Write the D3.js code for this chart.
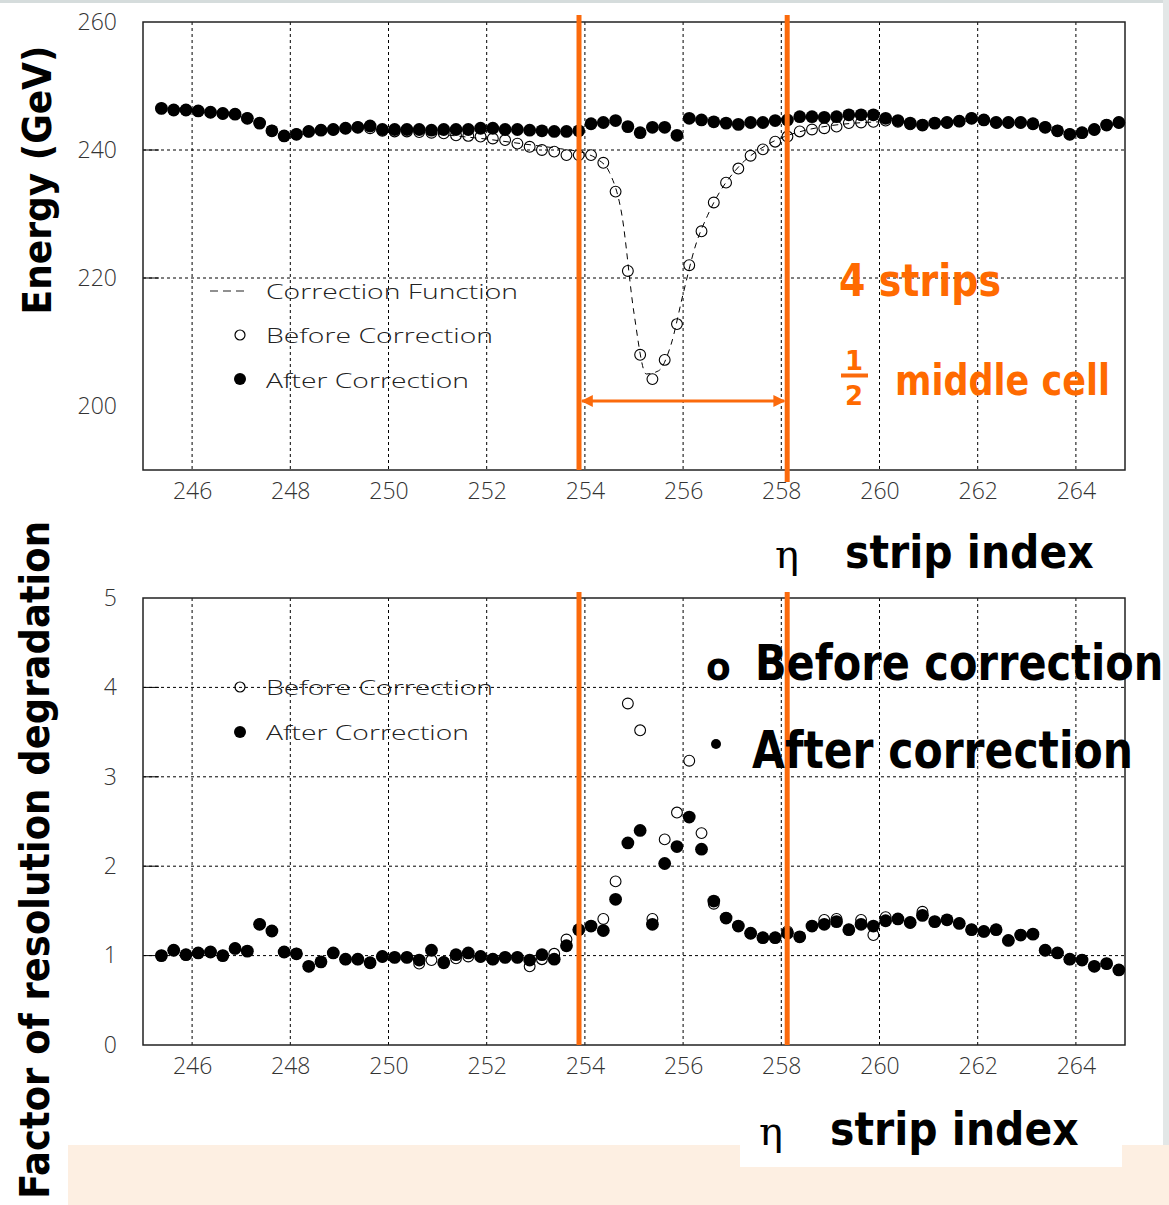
<!DOCTYPE html>
<html>
<head>
<meta charset="utf-8">
<script src="https://cdn.jsdelivr.net/npm/d3@7"></script>
<style>
body{margin:0;background:#fff;}
svg{display:block;}
.tick text{font-family:"Open Sans","DejaVu Sans",sans-serif;font-weight:300;font-size:23px;fill:#333;}
.grid line{stroke:#000;stroke-dasharray:3,3;stroke-width:1;}
.legend{font-family:"Open Sans","DejaVu Sans",sans-serif;font-weight:300;font-size:21px;fill:#222;}
.big{font-family:"DejaVu Sans",sans-serif;font-weight:bold;fill:#000;}
.orange{font-family:"DejaVu Sans",sans-serif;font-weight:bold;fill:#ff6a00;}
</style>
</head>
<body>
<script>
(function(){

    //strip positions (quarter strip steps)
    var strips = [245.375,245.625,245.875,246.125,246.375,246.625,246.875,247.125,247.375,247.625,
        247.875,248.125,248.375,248.625,248.875,249.125,249.375,249.625,249.875,250.125,
        250.375,250.625,250.875,251.125,251.375,251.625,251.875,252.125,252.375,252.625,
        252.875,253.125,253.375,253.625,253.875,254.125,254.375,254.625,254.875,255.125,
        255.375,255.625,255.875,256.125,256.375,256.625,256.875,257.125,257.375,257.625,
        257.875,258.125,258.375,258.625,258.875,259.125,259.375,259.625,259.875,260.125,
        260.375,260.625,260.875,261.125,261.375,261.625,261.875,262.125,262.375,262.625,
        262.875,263.125,263.375,263.625,263.875,264.125,264.375,264.625,264.875];

    //energy after correction (GeV)
    var energyAfter = [246.5,246.25,246.25,246.1,245.9,245.7,245.6,244.95,244.2,243.0,
        242.2,242.45,242.9,243.1,243.2,243.4,243.55,243.75,243.2,243.2,
        243.2,243.2,243.1,243.2,243.2,243.2,243.4,243.4,243.2,243.2,
        243.1,243.0,242.9,242.9,243.0,244.1,244.3,244.6,243.65,242.7,
        243.55,243.55,242.3,244.95,244.7,244.4,244.2,244.0,244.3,244.3,
        244.6,244.7,245.2,245.2,245.1,245.2,245.5,245.5,245.5,244.95,
        244.6,244.2,243.9,244.2,244.3,244.5,244.95,244.7,244.3,244.3,
        244.3,244.1,243.55,243.0,242.45,242.7,243.2,243.9,244.3];

    //energy before correction (GeV)
    var energyBefore = [246.5,246.25,246.25,246.1,245.9,245.7,245.6,244.95,244.2,243.0,
        242.2,242.45,242.9,243.1,243.2,243.4,243.55,243.4,243.0,242.9,
        242.9,242.8,242.7,242.6,242.3,242.2,242.1,241.8,241.55,241.0,
        240.5,240.0,239.75,239.2,239.2,239.2,238.0,233.5,221.1,208.0,
        204.2,207.2,212.8,222.0,227.3,231.8,234.9,237.1,239.1,240.1,
        241.3,242.1,242.9,243.2,243.4,243.65,244.2,244.3,244.4,244.6,
        244.4,244.0,243.9,244.2,244.3,244.5,244.95,244.7,244.3,244.3,
        244.3,244.1,243.55,243.0,242.45,242.7,243.2,243.9,244.3];

    //correction function
    var corrStrips = [251.0,251.5,252.0,252.5,253.0,253.5,254.0,254.25,254.5,254.75,
        255.0,255.25,255.5,255.75,256.0,256.25,256.5,256.75,257.0,257.25,
        257.5,257.75,258.0,258.5,259.0,259.5,260.0];
    var corrEnergy = [242.5,242.1,241.7,241.2,240.7,240.2,239.5,238.6,236.5,230.0,
        214.5,205.0,205.5,209.5,217.5,225.0,229.8,233.5,236.2,238.3,
        239.8,241.0,241.9,243.1,243.8,244.2,244.4];

    //resolution degradation factor after correction
    var factorAfter = [1.0,1.06,1.01,1.03,1.04,1.0,1.08,1.05,1.35,1.275,
        1.04,1.02,0.88,0.93,1.03,0.96,0.96,0.92,0.99,0.98,
        0.98,0.95,1.06,0.92,1.01,1.03,0.99,0.96,0.98,0.98,
        0.95,1.01,0.96,1.11,1.29,1.33,1.28,1.63,2.26,2.40,
        1.35,2.03,2.22,2.55,2.19,1.61,1.42,1.33,1.25,1.20,
        1.20,1.25,1.21,1.33,1.35,1.38,1.29,1.35,1.33,1.39,
        1.41,1.37,1.45,1.38,1.40,1.36,1.29,1.27,1.29,1.17,
        1.23,1.24,1.06,1.03,0.96,0.95,0.88,0.91,0.84];

    //resolution degradation factor before correction
    var factorBefore = [1.0,1.06,1.01,1.03,1.04,1.0,1.08,1.05,1.35,1.275,
        1.04,1.02,0.88,0.93,1.03,0.96,0.96,0.92,0.99,0.98,
        0.98,0.91,0.95,0.93,0.97,0.99,0.99,0.96,0.98,0.98,
        0.88,0.96,1.02,1.18,1.29,1.33,1.41,1.83,3.82,3.52,
        1.41,2.30,2.60,3.18,2.37,1.58,1.42,1.33,1.25,1.20,
        1.20,1.27,1.21,1.33,1.40,1.41,1.29,1.40,1.23,1.43,
        1.41,1.37,1.49,1.38,1.40,1.36,1.29,1.27,1.29,1.17,
        1.23,1.24,1.06,1.03,0.96,0.95,0.88,0.91,0.84];

    //tick labels
    var xTicks = [246,248,250,252,254,256,258,260,262,264];
    var energyTicks = [200,220,240,260];
    var factorTicks = [0,1,2,3,4,5];

    //strips covered by the 4 strip band
    var bandLo = 253.88, bandHi = 258.12;

    var width = 1169, height = 1205;
    var orange = "#fb6a0c";

    var svg = d3.select("body").append("svg")
        .attr("width", width)
        .attr("height", height);

    //page decoration
    svg.append("rect").attr("x", 0).attr("y", 0).attr("width", width).attr("height", height).attr("fill", "#fff");
    svg.append("rect").attr("x", 0).attr("y", 0).attr("width", width).attr("height", 3).attr("fill", "#d5dcdc");
    svg.append("rect").attr("x", 1163).attr("y", 0).attr("width", 6).attr("height", 1145).attr("fill", "#e3e7e7");
    svg.append("rect").attr("x", 68).attr("y", 1145).attr("width", width - 68).attr("height", 60).attr("fill", "#fdefe2");
    svg.append("rect").attr("x", 740).attr("y", 1100).attr("width", 382).attr("height", 67).attr("fill", "#fff");

    var defs = svg.append("defs");
    ["arrowEnd", "arrowStart"].forEach(function(id, i){
        defs.append("marker")
            .attr("id", id)
            .attr("viewBox", "0 0 10 10")
            .attr("refX", i == 0 ? 9 : 1)
            .attr("refY", 5)
            .attr("markerWidth", 4)
            .attr("markerHeight", 4)
            .attr("markerUnits", "strokeWidth")
            .attr("orient", "auto")
            .append("path")
            .attr("d", i == 0 ? "M0,0L10,5L0,10z" : "M10,0L0,5L10,10z")
            .attr("fill", orange);
    });

    var left = 143, right = 1125;

    var x = d3.scaleLinear().domain([245, 265]).range([left, right]);
    var yTop = d3.scaleLinear().domain([190, 260]).range([470, 22]);
    var yBot = d3.scaleLinear().domain([0, 5]).range([1045, 598]);

    //legends go under the grid
    function drawLegendTop(){
        svg.append("line").attr("x1", 210).attr("x2", 246).attr("y1", 291).attr("y2", 291)
            .attr("stroke", "#222").attr("stroke-width", 1.2).attr("stroke-dasharray", "8,5");
        svg.append("text").attr("class", "legend").attr("x", 266).attr("y", 298.5)
            .attr("textLength", 252).attr("lengthAdjust", "spacingAndGlyphs").text("Correction Function");
        svg.append("circle").attr("cx", 240).attr("cy", 335).attr("r", 5)
            .attr("fill", "none").attr("stroke", "#000").attr("stroke-width", 1.2);
        svg.append("text").attr("class", "legend").attr("x", 266).attr("y", 343)
            .attr("textLength", 227).attr("lengthAdjust", "spacingAndGlyphs").text("Before Correction");
        svg.append("circle").attr("cx", 240).attr("cy", 379).attr("r", 6).attr("fill", "#000");
        svg.append("text").attr("class", "legend").attr("x", 266).attr("y", 388)
            .attr("textLength", 203).attr("lengthAdjust", "spacingAndGlyphs").text("After Correction");
    };

    function drawLegendBottom(){
        svg.append("circle").attr("cx", 240).attr("cy", 687).attr("r", 5)
            .attr("fill", "none").attr("stroke", "#000").attr("stroke-width", 1.2);
        svg.append("text").attr("class", "legend").attr("x", 266).attr("y", 695)
            .attr("textLength", 227).attr("lengthAdjust", "spacingAndGlyphs").text("Before Correction");
        svg.append("circle").attr("cx", 240).attr("cy", 732).attr("r", 6).attr("fill", "#000");
        svg.append("text").attr("class", "legend").attr("x", 266).attr("y", 740)
            .attr("textLength", 203).attr("lengthAdjust", "spacingAndGlyphs").text("After Correction");
    };

    //frame, grid and axes for one panel
    function drawPanel(y, yTicks){
        var top = y.range()[1], bottom = y.range()[0];

        var grid = svg.append("g").attr("class", "grid");
        grid.selectAll(".vgrid")
            .data(xTicks)
            .enter()
            .append("line")
            .attr("x1", function(d){ return x(d); })
            .attr("x2", function(d){ return x(d); })
            .attr("y1", top)
            .attr("y2", bottom);
        grid.selectAll(".hgrid")
            .data(yTicks.slice(1, -1))
            .enter()
            .append("line")
            .attr("x1", left)
            .attr("x2", right)
            .attr("y1", function(d){ return y(d); })
            .attr("y2", function(d){ return y(d); });

        //short solid major ticks on the left axis
        svg.append("g").selectAll("line")
            .data(yTicks.slice(1, -1))
            .enter()
            .append("line")
            .attr("x1", left)
            .attr("x2", left + 16)
            .attr("y1", function(d){ return y(d); })
            .attr("y2", function(d){ return y(d); })
            .attr("stroke", "#000")
            .attr("stroke-width", 1);

        svg.append("rect")
            .attr("x", left).attr("y", top)
            .attr("width", right - left).attr("height", bottom - top)
            .attr("fill", "none").attr("stroke", "#222").attr("stroke-width", 1.5);

        var xAxis = svg.append("g")
            .attr("transform", "translate(0," + bottom + ")")
            .call(d3.axisBottom(x).tickValues(xTicks).tickSize(0).tickPadding(13));
        xAxis.select(".domain").remove();

        var yAxis = svg.append("g")
            .attr("transform", "translate(" + left + ",0)")
            .call(d3.axisLeft(y).tickValues(yTicks).tickFormat(d3.format("d")).tickSize(0).tickPadding(26));
        yAxis.select(".domain").remove();
    };

    function drawPoints(y, before, after){
        svg.append("g").selectAll("circle")
            .data(strips)
            .enter()
            .append("circle")
            .attr("cx", function(d){ return x(d); })
            .attr("cy", function(d, i){ return y(before[i]); })
            .attr("r", 5.4)
            .attr("fill", "none")
            .attr("stroke", "#000")
            .attr("stroke-width", 1.1);
        svg.append("g").selectAll("circle")
            .data(strips)
            .enter()
            .append("circle")
            .attr("cx", function(d){ return x(d); })
            .attr("cy", function(d, i){ return y(after[i]); })
            .attr("r", 6.4)
            .attr("fill", "#000");
    };

    //bold label, stretched upward a little like the original lettering
    function bigText(cls, tx, ty, size, sy, label){
        return svg.append("text").attr("class", cls)
            .attr("transform", "translate(" + tx + "," + ty + ") scale(1," + sy + ")")
            .attr("font-size", size)
            .text(label);
    };

    //top panel: energy
    drawLegendTop();
    drawPanel(yTop, energyTicks);
    drawPoints(yTop, energyBefore, energyAfter);

    var corrLine = d3.line()
        .x(function(d, i){ return x(d); })
        .y(function(d, i){ return yTop(corrEnergy[i]); })
        .curve(d3.curveMonotoneX);
    svg.append("path")
        .datum(corrStrips)
        .attr("d", corrLine)
        .attr("fill", "none")
        .attr("stroke", "#000")
        .attr("stroke-width", 1)
        .attr("stroke-dasharray", "6,5");

    //bottom panel: resolution degradation
    drawLegendBottom();
    drawPanel(yBot, factorTicks);
    drawPoints(yBot, factorBefore, factorAfter);

    //orange band marks
    [[bandLo, 15, 470], [bandHi, 15, 482], [bandLo, 592, 1045], [bandHi, 592, 1045]].forEach(function(m){
        svg.append("line")
            .attr("x1", x(m[0])).attr("x2", x(m[0]))
            .attr("y1", m[1]).attr("y2", m[2])
            .attr("stroke", orange).attr("stroke-width", 5);
    });
    svg.append("line")
        .attr("x1", x(bandLo) + 3).attr("x2", x(bandHi) - 3)
        .attr("y1", 401).attr("y2", 401)
        .attr("stroke", orange).attr("stroke-width", 3)
        .attr("marker-start", "url(#arrowStart)")
        .attr("marker-end", "url(#arrowEnd)");

    //annotations
    bigText("orange", 839, 296, 38, 1.15, "4 strips");
    svg.append("text").attr("class", "orange").attr("x", 854).attr("y", 370)
        .attr("font-size", 26).attr("text-anchor", "middle").text("1");
    svg.append("line").attr("x1", 841).attr("x2", 868).attr("y1", 375.5).attr("y2", 375.5)
        .attr("stroke", orange).attr("stroke-width", 4);
    svg.append("text").attr("class", "orange").attr("x", 854).attr("y", 405)
        .attr("font-size", 26).attr("text-anchor", "middle").text("2");
    bigText("orange", 895, 395, 35, 1.2, "middle cell");

    bigText("big", 706, 680, 36, 1.1, "o");
    bigText("big", 755, 680, 41.5, 1.2, "Before correction");
    svg.append("circle").attr("cx", 716).attr("cy", 744).attr("r", 5).attr("fill", "#000");
    bigText("big", 752, 768, 42.5, 1.2, "After correction");

    //axis titles
    svg.append("text").attr("class", "big")
        .attr("transform", "translate(51,180) rotate(-90) scale(1,1.1)")
        .attr("text-anchor", "middle")
        .attr("font-size", 36)
        .text("Energy (GeV)");
    svg.append("text").attr("class", "big")
        .attr("transform", "translate(49,860) rotate(-90) scale(1,1.1)")
        .attr("text-anchor", "middle")
        .attr("font-size", 37)
        .text("Factor of resolution degradation");

    [[775, 845, 568], [759, 830, 1145]].forEach(function(p){
        svg.append("text").attr("x", p[0]).attr("y", p[2])
            .attr("font-family", "DejaVu Serif, serif").attr("font-size", 40).attr("fill", "#000")
            .text("η");
        bigText("big", p[1], p[2], 41, 1.12, "strip index");
    });

})();
</script>
</body>
</html>
